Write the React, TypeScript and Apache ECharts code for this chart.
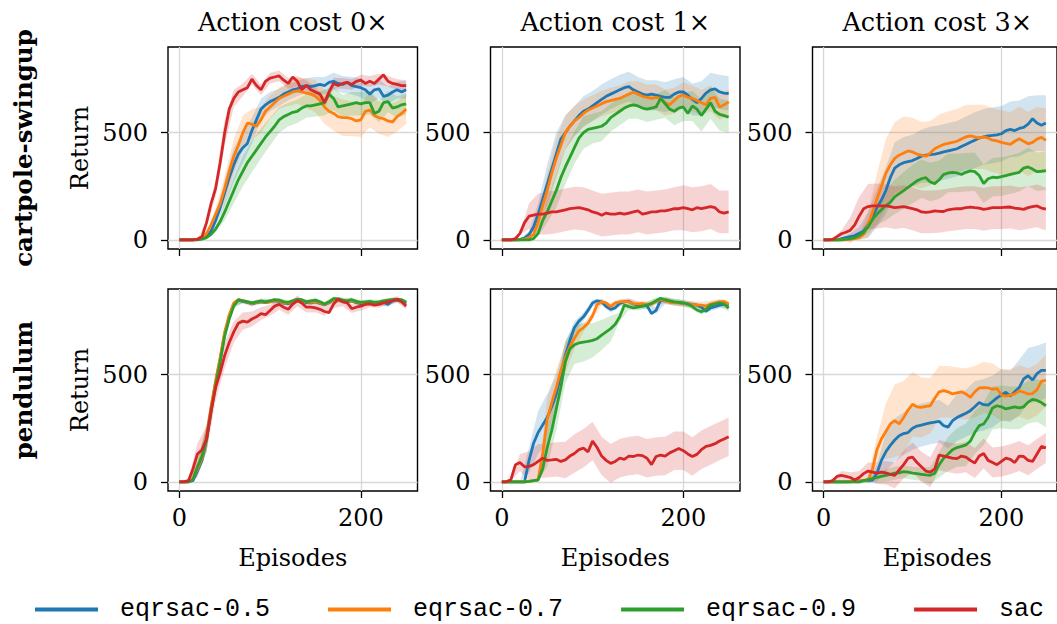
import React, { useEffect, useRef } from 'react';
import * as echarts from 'echarts';

// Learning curves: mean return per episode for each method, with a shaded spread band.
const methods = ['eqrsac-0.5', 'eqrsac-0.7', 'eqrsac-0.9', 'sac'];
const methodColors = ['#1f77b4', '#ff7f0e', '#2ca02c', '#d62728'];
const envNames = ['cartpole-swingup', 'pendulum'];
const costTitles = ['Action cost 0×', 'Action cost 1×', 'Action cost 3×'];
const xTicks = [0, 200];
const yTicks = [0, 500];

// Mean curves are sampled every 5 episodes (0..250), spreads every 10 episodes (0..250).
const meanEpisodes = [
  0, 5, 10, 15, 20, 25, 30, 35, 40, 45, 50, 55, 60, 65, 70, 75, 80, 85, 90, 95,
  100, 105, 110, 115, 120, 125, 130, 135, 140, 145, 150, 155, 160, 165, 170, 175, 180, 185, 190, 195,
  200, 205, 210, 215, 220, 225, 230, 235, 240, 245, 250,
];
const bandEpisodes = [
  0, 10, 20, 30, 40, 50, 60, 70, 80, 90, 100, 110, 120, 130, 140, 150, 160, 170, 180, 190,
  200, 210, 220, 230, 240, 250,
];

// cartpole-swingup, action cost 0x
const cartpole0_q05 = [0,0,0,0,2,5,15,40,90,150,220,290,350,400,430,450,510,560,610,630,645,655,665,680,690,700,705,715,720,715,720,725,720,735,740,730,725,735,720,715,710,700,680,700,705,670,675,690,700,690,700];
const cartpole0_q07 = [0,0,0,0,3,10,30,70,120,170,240,320,390,440,500,545,540,530,560,600,620,640,660,670,680,690,695,690,685,680,670,650,620,600,590,575,570,570,565,555,560,600,605,580,570,565,555,550,575,590,610];
const cartpole0_q09 = [0,0,0,0,0,3,10,25,50,85,130,180,230,280,320,360,390,420,450,480,505,530,560,575,585,595,600,615,625,625,630,635,640,680,660,620,625,630,635,640,635,640,640,590,600,640,645,615,620,630,635];
const cartpole0_sac = [0,0,0,0,3,15,80,170,240,360,500,610,660,690,700,710,750,720,700,740,755,760,765,745,730,760,740,700,720,700,690,680,640,690,730,720,730,735,725,740,745,730,740,730,750,770,740,730,725,720,720];
const cartpole0_q05_sd = [0,0,0,5,20,60,80,70,60,50,45,40,40,35,35,40,40,40,40,40,45,45,45,40,40,40];
const cartpole0_q07_sd = [0,0,0,5,25,60,80,80,70,60,55,50,55,60,70,75,80,80,85,80,80,80,75,75,70,70];
const cartpole0_q09_sd = [0,0,0,3,15,40,60,70,75,70,65,60,55,55,55,55,60,55,50,55,55,55,50,50,50,50];
const cartpole0_sac_sd = [0,0,0,10,40,60,40,30,25,25,25,25,25,25,25,25,25,25,25,25,25,25,25,25,25,25];

// cartpole-swingup, action cost 1x
const cartpole1_q05 = [0,0,0,0,2,8,25,60,120,190,260,330,400,470,500,530,555,580,600,610,625,640,655,670,680,690,700,710,715,700,690,680,675,680,675,670,665,665,680,690,690,675,655,640,660,685,700,705,690,685,683];
const cartpole1_q07 = [0,0,0,0,0,3,10,25,80,160,230,310,380,440,500,530,555,570,590,605,615,625,635,645,650,655,660,670,680,690,680,670,665,660,665,660,640,630,650,670,675,665,660,650,640,630,660,665,620,630,644];
const cartpole1_q09 = [0,0,0,0,0,0,0,5,30,90,130,180,230,290,340,385,430,475,500,515,520,525,530,545,570,585,600,615,625,630,625,615,610,615,620,660,635,610,600,615,620,590,625,610,580,610,640,600,585,580,573];
const cartpole1_sac = [0,0,0,5,30,80,110,115,120,120,125,130,130,135,140,145,148,150,145,140,130,125,115,125,120,120,125,120,125,130,135,120,125,130,130,135,135,140,145,145,150,145,140,150,145,150,155,150,130,125,130];
const cartpole1_q05_sd = [0,0,3,15,50,90,100,80,70,70,70,70,70,70,70,70,70,70,70,70,70,75,80,80,80,80];
const cartpole1_q07_sd = [0,0,0,8,40,80,90,80,70,65,60,60,60,60,60,60,60,60,60,60,60,60,60,60,60,60];
const cartpole1_q09_sd = [0,0,0,0,15,50,80,80,75,75,70,70,65,65,60,60,60,60,65,65,65,70,75,75,75,75];
const cartpole1_sac_sd = [0,0,5,60,95,100,100,100,100,100,100,100,100,100,100,100,100,100,100,100,105,105,105,105,100,100];

// cartpole-swingup, action cost 3x
const cartpole3_q05 = [0,0,0,0,5,10,15,20,30,40,70,110,150,185,230,290,335,350,360,365,370,380,390,395,398,400,405,410,415,420,425,435,445,455,465,475,480,485,487,490,495,510,515,510,520,525,540,565,545,535,545];
const cartpole3_q07 = [0,0,0,0,0,0,2,5,10,25,70,130,190,250,310,350,380,395,405,415,410,400,395,390,405,425,435,445,450,455,460,470,480,485,480,475,480,475,465,462,455,450,445,460,472,460,448,455,470,478,464];
const cartpole3_q09 = [0,0,0,0,0,3,5,10,20,35,60,95,120,140,160,175,200,215,230,245,260,275,285,290,270,262,280,305,312,315,312,305,315,322,318,300,262,285,292,290,295,300,305,310,315,335,340,330,318,320,323];
const cartpole3_sac = [0,0,2,15,28,35,45,70,110,145,155,158,158,158,158,155,150,152,155,150,145,140,130,128,130,135,133,132,140,143,145,145,150,153,150,148,142,145,150,150,150,152,153,148,145,142,150,155,158,148,143];
const cartpole3_q05_sd = [0,0,5,15,30,60,90,110,120,120,120,125,130,130,130,130,130,130,130,130,130,130,130,130,130,130];
const cartpole3_q07_sd = [0,0,0,3,10,60,120,160,170,170,160,155,150,150,150,150,150,150,150,150,150,150,150,150,150,150];
const cartpole3_q09_sd = [0,0,0,3,10,30,50,70,80,85,90,90,90,90,90,90,90,90,90,90,90,90,90,90,90,90];
const cartpole3_sac_sd = [0,0,15,60,90,105,105,100,100,100,100,100,100,100,100,100,100,100,100,100,100,100,100,100,100,100];

// pendulum, action cost 0x
const pendulum0_q05 = [0,0,0,5,50,100,200,340,460,570,690,770,830,848,842,838,830,836,840,836,842,846,842,834,832,840,848,846,836,835,840,833,826,836,850,850,843,840,844,836,832,835,834,830,834,838,828,845,848,846,832];
const pendulum0_q07 = [0,0,0,15,60,110,210,350,470,580,700,780,835,850,845,840,832,838,842,838,840,848,845,835,835,842,850,845,840,838,842,835,828,838,852,850,845,842,846,840,836,838,836,832,836,840,843,848,850,848,836];
const pendulum0_q09 = [0,0,0,10,70,120,200,330,450,560,680,760,820,850,845,840,835,840,845,840,845,850,848,840,838,845,852,850,840,845,848,840,830,840,855,855,848,845,850,842,838,840,842,838,840,845,848,850,852,850,838];
const pendulum0_sac = [0,0,5,60,130,150,200,330,440,510,590,650,700,740,750,745,760,770,785,780,800,820,828,815,805,830,845,835,815,815,812,805,795,790,830,852,840,835,808,815,820,828,830,825,828,835,840,845,852,840,820];
const pendulum0_q05_sd = [0,3,30,60,40,15,10,10,10,10,10,10,10,10,10,10,10,10,10,10,10,10,10,10,10,12];
const pendulum0_q07_sd = [0,3,30,60,40,15,10,10,10,10,10,10,10,10,10,10,10,10,10,10,10,10,10,10,10,12];
const pendulum0_q09_sd = [0,3,30,60,40,15,10,10,10,10,10,10,10,10,10,10,10,10,10,10,10,10,10,10,10,12];
const pendulum0_sac_sd = [0,10,50,60,60,60,50,40,35,30,25,25,25,25,25,20,20,20,20,20,20,15,15,15,15,15];

// pendulum, action cost 1x
const pendulum1_q05 = [0,0,0,0,0,0,100,180,230,265,300,350,410,500,590,660,720,750,770,800,835,845,840,818,805,812,833,840,842,830,825,826,822,785,800,848,845,840,838,836,833,830,828,825,815,795,812,818,825,828,825];
const pendulum1_q07 = [0,0,0,0,0,0,2,5,10,130,290,370,440,520,580,630,670,705,720,740,775,828,840,835,818,835,840,842,840,832,830,832,828,830,840,852,846,838,836,835,833,832,828,826,825,820,830,835,840,842,830];
const pendulum1_q09 = [0,0,0,0,0,0,2,5,8,60,160,240,340,440,560,620,640,648,652,655,660,668,685,700,715,735,770,825,818,812,815,820,825,833,845,857,850,845,840,838,835,830,818,802,794,805,825,830,835,830,810];
const pendulum1_sac = [0,0,10,80,90,70,72,80,95,110,100,102,105,95,102,120,132,150,157,140,190,160,120,100,86,95,110,105,120,118,125,122,110,80,118,125,120,135,145,155,145,130,118,128,150,165,170,178,190,200,210];
const pendulum1_q05_sd = [0,0,0,60,100,110,90,60,30,20,15,15,15,15,15,15,15,15,15,15,15,15,15,15,15,15];
const pendulum1_q07_sd = [0,0,0,2,8,100,80,70,50,20,15,15,15,15,15,15,15,15,15,15,15,15,15,15,15,15];
const pendulum1_q09_sd = [0,0,0,2,6,90,100,100,90,90,80,70,60,20,15,15,15,15,15,15,15,15,15,15,15,15];
const pendulum1_sac_sd = [0,5,40,70,80,80,80,85,90,90,90,90,90,90,90,90,90,90,90,90,90,90,90,90,90,90];

// pendulum, action cost 3x
const pendulum3_q05 = [0,0,0,0,0,0,0,2,3,5,5,8,40,100,140,170,195,215,225,230,250,260,265,270,275,278,282,262,255,285,300,310,320,332,350,370,360,358,375,392,405,418,400,420,440,480,495,475,505,520,520];
const pendulum3_q07 = [0,0,0,0,0,0,2,3,5,5,8,60,150,200,235,270,285,270,300,335,362,350,347,352,355,390,420,426,420,410,415,420,410,394,420,438,440,438,432,435,405,400,405,410,425,418,410,412,430,470,473];
const pendulum3_q09 = [0,0,0,0,0,0,0,0,0,5,10,15,20,25,30,35,40,42,47,45,40,38,35,32,30,40,80,110,130,150,160,165,172,190,230,262,270,300,345,355,350,340,345,350,345,350,372,385,380,370,355];
const pendulum3_sac = [0,0,5,25,30,25,20,8,20,38,50,45,40,45,42,35,30,55,80,110,115,90,70,50,45,60,125,120,115,110,108,120,115,100,88,120,132,100,90,80,95,110,105,90,120,118,100,95,130,165,158];
const pendulum3_q05_sd = [0,0,0,0,5,10,40,90,100,100,100,100,100,100,100,110,110,120,120,120,120,120,130,130,130,130];
const pendulum3_q07_sd = [0,0,0,0,5,10,60,130,170,170,150,140,130,120,120,120,120,120,120,120,120,120,120,120,120,120];
const pendulum3_q09_sd = [0,0,0,0,0,10,20,30,30,30,30,30,40,60,80,90,100,100,100,100,100,100,100,100,100,100];
const pendulum3_sac_sd = [0,5,20,25,30,40,50,55,60,65,70,70,70,70,70,70,70,70,70,70,70,70,70,70,70,70];

// Panels in row-major order
const panelMeans = [
  [cartpole0_q05, cartpole0_q07, cartpole0_q09, cartpole0_sac],
  [cartpole1_q05, cartpole1_q07, cartpole1_q09, cartpole1_sac],
  [cartpole3_q05, cartpole3_q07, cartpole3_q09, cartpole3_sac],
  [pendulum0_q05, pendulum0_q07, pendulum0_q09, pendulum0_sac],
  [pendulum1_q05, pendulum1_q07, pendulum1_q09, pendulum1_sac],
  [pendulum3_q05, pendulum3_q07, pendulum3_q09, pendulum3_sac],
];
const panelSpreads = [
  [cartpole0_q05_sd, cartpole0_q07_sd, cartpole0_q09_sd, cartpole0_sac_sd],
  [cartpole1_q05_sd, cartpole1_q07_sd, cartpole1_q09_sd, cartpole1_sac_sd],
  [cartpole3_q05_sd, cartpole3_q07_sd, cartpole3_q09_sd, cartpole3_sac_sd],
  [pendulum0_q05_sd, pendulum0_q07_sd, pendulum0_q09_sd, pendulum0_sac_sd],
  [pendulum1_q05_sd, pendulum1_q07_sd, pendulum1_q09_sd, pendulum1_sac_sd],
  [pendulum3_q05_sd, pendulum3_q07_sd, pendulum3_q09_sd, pendulum3_sac_sd],
];

const SERIF = '"DejaVu Serif", serif';
const MONO = '"Liberation Mono", monospace';
const COL_LEFT = [168, 490.5, 812.5];
const ROW_TOP = [47, 289];
const PANEL_W = 249.5;
const PANEL_H = 202;

// One filled polygon per band: upper edge left-to-right, then lower edge back.
function bandSeries(g: number, color: string, rows: number[][]) {
  return {
    type: 'custom',
    xAxisIndex: g,
    yAxisIndex: g,
    silent: true,
    z: 1,
    encode: { x: 0, y: [1, 2] },
    data: rows,
    renderItem: (params: any, api: any) => {
      if (params.dataIndex !== 0) return null;
      const upper = rows.map((r) => api.coord([r[0], r[2]]));
      const lower = rows.map((r) => api.coord([r[0], r[1]])).reverse();
      return {
        type: 'polygon',
        shape: { points: upper.concat(lower) },
        style: { fill: color, opacity: 0.2 },
        silent: true,
      };
    },
  };
}

function buildOption(): any {
  const grids: any[] = [];
  const xAxes: any[] = [];
  const yAxes: any[] = [];
  const series: any[] = [];
  const graphics: any[] = [];

  for (let row = 0; row < 2; row++) {
    for (let col = 0; col < 3; col++) {
      const g = row * 3 + col;
      grids.push({
        left: COL_LEFT[col],
        top: ROW_TOP[row],
        width: PANEL_W,
        height: PANEL_H,
        show: true,
        borderColor: '#000',
        borderWidth: 1.4,
        backgroundColor: 'transparent',
      });
      xAxes.push({
        gridIndex: g,
        type: 'value',
        min: -12.5,
        max: 262.5,
        axisLine: { show: false, onZero: false },
        axisTick: { show: true, customValues: xTicks, length: 7, lineStyle: { color: '#000', width: 1.3 } },
        axisLabel: {
          show: row === 1,
          customValues: xTicks,
          margin: 15,
          color: '#000',
          fontFamily: SERIF,
          fontSize: 24,
        },
        splitLine: { show: true, lineStyle: { color: '#d8d8d8', width: 1.3 } },
      });
      yAxes.push({
        gridIndex: g,
        type: 'value',
        min: -43,
        max: 900,
        axisLine: { show: false, onZero: false },
        axisTick: { show: true, customValues: yTicks, length: 7, lineStyle: { color: '#000', width: 1.3 } },
        axisLabel: {
          customValues: yTicks,
          margin: 20,
          color: '#000',
          fontFamily: SERIF,
          fontSize: 24,
        },
        splitLine: { show: true, lineStyle: { color: '#d8d8d8', width: 1.3 } },
      });

      const means = panelMeans[g];
      const spreads = panelSpreads[g];
      for (let m = 0; m < methods.length; m++) {
        const mean = means[m];
        const sd = spreads[m];
        const rows = bandEpisodes.map((ep, i) => [ep, mean[i * 2] - sd[i], mean[i * 2] + sd[i]]);
        series.push(bandSeries(g, methodColors[m], rows));
      }
      for (let m = 0; m < methods.length; m++) {
        series.push({
          type: 'line',
          name: methods[m],
          xAxisIndex: g,
          yAxisIndex: g,
          symbol: 'none',
          silent: true,
          color: methodColors[m],
          itemStyle: { color: methodColors[m] },
          lineStyle: { color: methodColors[m], width: 2.8 },
          z: 3 + m,
          data: meanEpisodes.map((ep, i) => [ep, means[m][i]]),
        });
      }
    }
  }

  for (let col = 0; col < 3; col++) {
    graphics.push({
      type: 'text',
      x: COL_LEFT[col] + PANEL_W / 2,
      y: 22,
      style: { text: costTitles[col], fontFamily: SERIF, fontSize: 25.5, fill: '#000', align: 'center', verticalAlign: 'middle' },
    });
    graphics.push({
      type: 'text',
      x: COL_LEFT[col] + PANEL_W / 2,
      y: 558,
      style: { text: 'Episodes', fontFamily: SERIF, fontSize: 24, fill: '#000', align: 'center', verticalAlign: 'middle' },
    });
  }
  for (let row = 0; row < 2; row++) {
    const cy = ROW_TOP[row] + PANEL_H / 2;
    graphics.push({
      type: 'text',
      x: 23,
      y: cy,
      rotation: Math.PI / 2,
      style: { text: envNames[row], fontFamily: SERIF, fontWeight: 'bold', fontSize: 24.5, fill: '#000', align: 'center', verticalAlign: 'middle' },
    });
    graphics.push({
      type: 'text',
      x: 80,
      y: cy,
      rotation: Math.PI / 2,
      style: { text: 'Return', fontFamily: SERIF, fontSize: 24, fill: '#000', align: 'center', verticalAlign: 'middle' },
    });
  }

  return {
    animation: false,
    backgroundColor: '#fff',
    grid: grids,
    xAxis: xAxes,
    yAxis: yAxes,
    series,
    graphic: graphics,
    legend: {
      data: methods,
      left: 35,
      top: 597,
      padding: 0,
      icon: 'rect',
      itemWidth: 63,
      itemHeight: 4,
      itemGap: 58,
      selectedMode: false,
      textStyle: { fontFamily: MONO, fontSize: 25, color: '#000', padding: [0, 0, 0, 17] },
    },
  };
}

export default function App() {
  const ref = useRef<HTMLDivElement>(null);
  useEffect(() => {
    if (!ref.current) return;
    const chart = echarts.init(ref.current, null, { renderer: 'svg' });
    chart.setOption(buildOption());
    return () => chart.dispose();
  }, []);
  return (
    <div
      ref={ref}
      style={{ position: 'absolute', left: 0, top: 0, width: 1057, height: 624, background: '#fff' }}
    />
  );
}
